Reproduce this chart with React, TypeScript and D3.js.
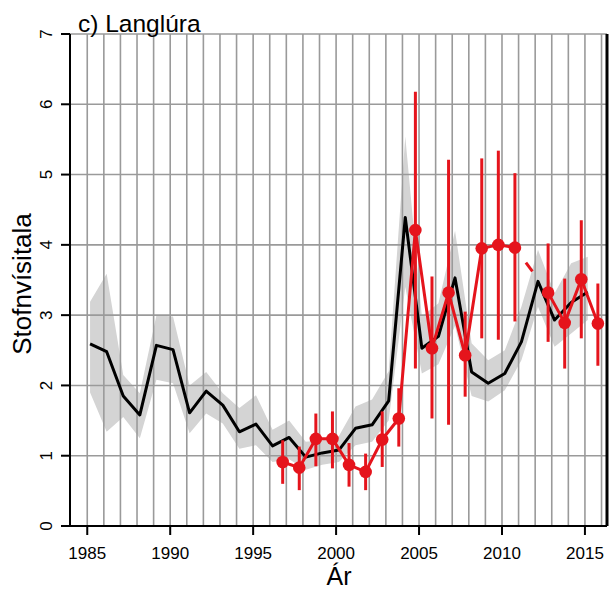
import * as d3 from 'd3';

// stock index (model) with confidence band
const modelYears = [1985, 1986, 1987, 1988, 1989, 1990, 1991, 1992, 1993, 1994, 1995, 1996, 1997, 1998, 1999, 2000,
  2001, 2002, 2003, 2004, 2005, 2006, 2007, 2008, 2009, 2010, 2011, 2012, 2013, 2014, 2015];
const modelValue = [2.59, 2.48, 1.85, 1.58, 2.57, 2.51, 1.61, 1.92, 1.72, 1.34, 1.45, 1.14, 1.26, 0.98, 1.04, 1.08,
  1.39, 1.44, 1.78, 4.39, 2.53, 2.70, 3.53, 2.19, 2.03, 2.17, 2.62, 3.48, 2.93, 3.18, 3.33];
const modelUpper = [3.19, 3.59, 2.15, 1.89, 3.0, 2.98, 2.0, 2.19, 1.89, 1.68, 1.86, 1.37, 1.5, 1.2, 1.22, 1.28,
  1.7, 1.8, 2.2, 5.54, 2.98, 3.17, 4.2, 2.6, 2.36, 2.5, 3.12, 3.93, 3.31, 3.74, 3.83];
const modelLower = [1.9, 1.34, 1.55, 1.25, 2.08, 2.03, 1.32, 1.6, 1.46, 1.1, 1.15, 0.91, 0.95, 0.8, 0.87, 0.91,
  1.15, 1.2, 1.5, 3.4, 2.17, 2.3, 2.85, 1.85, 1.77, 1.93, 2.36, 3.12, 2.55, 2.74, 2.93];

// survey index with error bars (no survey 2012)
const surveyYears = [1997, 1998, 1999, 2000, 2001, 2002, 2003, 2004, 2005, 2006, 2007, 2008, 2009, 2010, 2011,
  2013, 2014, 2015, 2016];
const surveyValue = [0.91, 0.83, 1.24, 1.24, 0.87, 0.77, 1.23, 1.53, 4.21, 2.53, 3.32, 2.43, 3.95, 4.0, 3.96,
  3.32, 2.89, 3.51, 2.88];
const surveyUpper = [1.22, 1.13, 1.6, 1.63, 1.18, 1.03, 1.63, 1.96, 6.18, 3.55, 5.21, 3.05, 5.23, 5.34, 5.02,
  4.02, 3.52, 4.35, 3.45];
const surveyLower = [0.6, 0.51, 0.85, 0.82, 0.56, 0.51, 0.84, 1.13, 2.24, 1.53, 1.44, 1.84, 2.67, 2.65, 2.91,
  2.62, 2.24, 2.67, 2.28];

const xTicks = [1985, 1990, 1995, 2000, 2005, 2010, 2015];
const yTicks = [0, 1, 2, 3, 4, 5, 6, 7];
const gridYears = d3.range(1985, 2017);
const gridLevels = [1, 2, 3, 4, 5, 6, 7];

const W = 609;
const H = 591;
const RED = '#e5141c';
const FONT = '"Liberation Sans", Arial, Helvetica, sans-serif';

export default function App() {
  const x = d3.scaleLinear().domain([1983.96, 2016.33]).range([70, 607]);
  const y = d3.scaleLinear().domain([0, 7]).range([526, 34]);

  // model points are plotted a little after the year mark, survey a little before
  const mOff = 0.17;
  const sOff = -0.22;

  const model = modelYears.map((yr, i) => ({ yr, v: modelValue[i], hi: modelUpper[i], lo: modelLower[i] }));
  const survey = surveyYears.map((yr, i) => ({ yr, v: surveyValue[i], hi: surveyUpper[i], lo: surveyLower[i] }));

  const band = d3.area<typeof model[0]>()
    .x(d => x(d.yr + mOff))
    .y0(d => y(d.lo))
    .y1(d => y(d.hi));
  const mLine = d3.line<typeof model[0]>()
    .x(d => x(d.yr + mOff))
    .y(d => y(d.v));
  const sLine = d3.line<typeof survey[0]>()
    .x(d => x(d.yr + sOff))
    .y(d => y(d.v));

  const before = survey.filter(d => d.yr <= 2011);
  const after = survey.filter(d => d.yr >= 2013);
  const gap = survey.filter(d => d.yr === 2011 || d.yr === 2013);

  return (
    <div style={{ position: 'absolute', left: 0, top: 0 }}>
      <svg width={W} height={H} style={{ display: 'block', background: '#fff' }} fontFamily={FONT}>
        <path d={band(model) ?? ''} fill="#d4d4d4" stroke="none" />

        {gridYears.map(yr => (
          <line key={'gx' + yr} x1={x(yr)} x2={x(yr)} y1={y(0)} y2={y(7)} stroke="#9a9a9a" strokeWidth={1.6} />
        ))}
        {gridLevels.map(l => (
          <line key={'gy' + l} x1={x.range()[0]} x2={x.range()[1]} y1={y(l)} y2={y(l)} stroke="#9a9a9a" strokeWidth={1.6} />
        ))}

        <path d={mLine(model) ?? ''} fill="none" stroke="#000" strokeWidth={3} strokeLinejoin="round" />

        {survey.map(d => (
          <line key={'eb' + d.yr} x1={x(d.yr + sOff)} x2={x(d.yr + sOff)} y1={y(d.lo)} y2={y(d.hi)}
            stroke={RED} strokeWidth={3} />
        ))}
        <path d={sLine(before) ?? ''} fill="none" stroke={RED} strokeWidth={3} strokeLinejoin="round" />
        <path d={sLine(after) ?? ''} fill="none" stroke={RED} strokeWidth={3} strokeLinejoin="round" />
        <path d={sLine(gap) ?? ''} fill="none" stroke={RED} strokeWidth={3} strokeDasharray="11 30" strokeDashoffset={22.5} />
        {survey.map(d => (
          <circle key={'pt' + d.yr} cx={x(d.yr + sOff)} cy={y(d.v)} r={6.3} fill={RED} />
        ))}

        {/* axes */}
        <line x1={70} x2={70} y1={y(7)} y2={y(0)} stroke="#000" strokeWidth={2} />
        <line x1={70} x2={607} y1={y(0)} y2={y(0)} stroke="#000" strokeWidth={2} />
        <line x1={607} x2={607} y1={y(7)} y2={y(0)} stroke="#000" strokeWidth={3} />
        {yTicks.map(t => (
          <g key={'yt' + t}>
            <line x1={61} x2={70} y1={y(t)} y2={y(t)} stroke="#000" strokeWidth={2} />
            <text transform={`translate(51.5,${y(t)}) rotate(-90)`} textAnchor="middle" fontSize={17} fill="#000">{t}</text>
          </g>
        ))}
        {xTicks.map(t => (
          <g key={'xt' + t}>
            <line x1={x(t)} x2={x(t)} y1={y(0)} y2={y(0) + 9} stroke="#000" strokeWidth={2} />
            <text x={x(t)} y={558.5} textAnchor="middle" fontSize={17} fill="#000">{t}</text>
          </g>
        ))}

        <text transform="translate(30.5,284) rotate(-90)" textAnchor="middle" fontSize={26} fill="#000">Stofnvísitala</text>
        <text x={339} y={585} textAnchor="middle" fontSize={25} fill="#000">Ár</text>
        <text x={78} y={31.5} fontSize={24.5} fill="#000">c) Langlúra</text>
      </svg>
    </div>
  );
}
